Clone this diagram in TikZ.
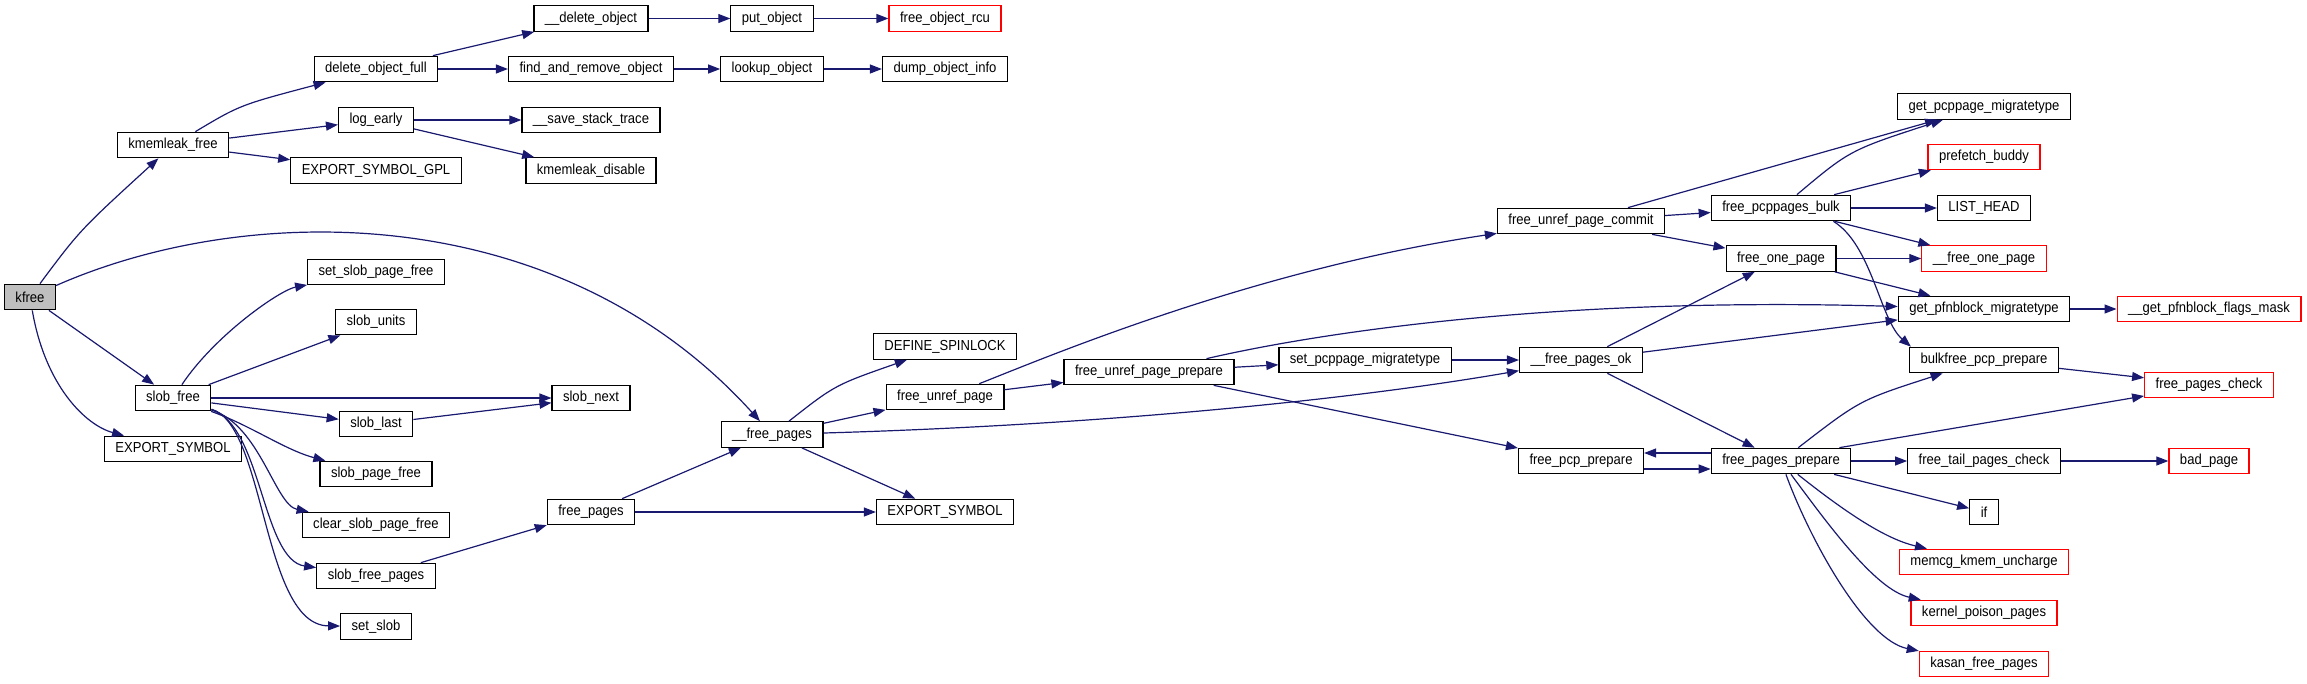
\documentclass[tikz,border=0pt]{standalone}
\usepackage{fontspec}
\newfontfamily\dxfont[FakeStretch=0.9]{Liberation Sans}
\usepackage{tikz}
\usetikzlibrary{arrows.meta, calc}
\definecolor{edgeColor}{RGB}{25, 25, 112}
\definecolor{rootColor}{RGB}{191, 191, 191}
\definecolor{missingColor}{RGB}{255, 0, 0}

\begin{document}
\begin{tikzpicture}[x=1pt, y=-1pt,
            fn/.style={draw=black, line width=1.2pt, rectangle, inner xsep=11pt, inner ysep=0pt, minimum height=25.5pt, font=\dxfont\fontsize{14.5}{16}\selectfont},
            root/.style={fn, fill=rootColor},
            missing/.style={fn, draw=missingColor},
            call/.style={draw=edgeColor, line width=1.2pt, -{Triangle[length=12pt, width=9pt]}}]
            \useasboundingbox (0,0) rectangle (2307,683);
            \node[root] (kfree) at (30,297) {kfree};
            \node[fn] (kmemleakFree) at (173,145) {kmemleak\_free};
            \node[fn] (slobFree) at (173,398) {slob\_free};
            \node[fn] (exportSymbolA) at (173,449) {EXPORT\_SYMBOL};
            \node[fn] (deleteObjectFull) at (376,69) {delete\_object\_full};
            \node[fn] (logEarly) at (376,120) {log\_early};
            \node[fn] (exportSymbolGpl) at (376,170.5) {EXPORT\_SYMBOL\_GPL};
            \node[fn] (setSlobPageFree) at (376,272) {set\_slob\_page\_free};
            \node[fn] (slobUnits) at (376,322) {slob\_units};
            \node[fn] (slobLast) at (376,424) {slob\_last};
            \node[fn] (slobPageFree) at (376,474) {slob\_page\_free};
            \node[fn] (clearSlobPageFree) at (376,525) {clear\_slob\_page\_free};
            \node[fn] (slobFreePages) at (376,576) {slob\_free\_pages};
            \node[fn] (setSlob) at (376,626.5) {set\_slob};
            \node[fn] (deleteObject) at (591,18.5) {\_\_delete\_object};
            \node[fn] (findAndRemoveObject) at (591,69) {find\_and\_remove\_object};
            \node[fn] (saveStackTrace) at (591,120) {\_\_save\_stack\_trace};
            \node[fn] (kmemleakDisable) at (591,170.5) {kmemleak\_disable};
            \node[fn] (slobNext) at (591,398) {slob\_next};
            \node[fn] (freePages) at (591,512) {free\_pages};
            \node[fn] (putObject) at (772,18.5) {put\_object};
            \node[fn] (lookupObject) at (772,69) {lookup\_object};
            \node[fn] (freePagesInner) at (772,434.5) {\_\_free\_pages};
            \node[missing] (freeObjectRcu) at (945,18.5) {free\_object\_rcu};
            \node[fn] (dumpObjectInfo) at (945,69) {dump\_object\_info};
            \node[fn] (defineSpinlock) at (945,346.5) {DEFINE\_SPINLOCK};
            \node[fn] (freeUnrefPage) at (945,397) {free\_unref\_page};
            \node[fn] (exportSymbolB) at (945,512) {EXPORT\_SYMBOL};
            \node[fn] (freeUnrefPagePrepare) at (1149,372) {free\_unref\_page\_prepare};
            \node[fn] (setPcppageMigratetype) at (1365,360) {set\_pcppage\_migratetype};
            \node[fn] (freeUnrefPageCommit) at (1581,221) {free\_unref\_page\_commit};
            \node[fn] (freePagesOk) at (1581,360) {\_\_free\_pages\_ok};
            \node[fn] (freePcpPrepare) at (1581,461) {free\_pcp\_prepare};
            \node[fn] (freePcppagesBulk) at (1781,208) {free\_pcppages\_bulk};
            \node[fn] (freeOnePage) at (1781,258.5) {free\_one\_page};
            \node[fn] (freePagesPrepare) at (1781,461) {free\_pages\_prepare};
            \node[fn] (getPcppageMigratetype) at (1984,106.5) {get\_pcppage\_migratetype};
            \node[missing] (prefetchBuddy) at (1984,157) {prefetch\_buddy};
            \node[fn] (listHead) at (1984,208) {LIST\_HEAD};
            \node[missing] (freeOnePageInner) at (1984,258.5) {\_\_free\_one\_page};
            \node[fn] (getPfnblockMigratetype) at (1984,309) {get\_pfnblock\_migratetype};
            \node[fn] (bulkfreePcpPrepare) at (1984,360) {bulkfree\_pcp\_prepare};
            \node[fn] (freeTailPagesCheck) at (1984,461) {free\_tail\_pages\_check};
            \node[fn] (ifNode) at (1984,512) {if};
            \node[missing] (memcgKmemUncharge) at (1984,562) {memcg\_kmem\_uncharge};
            \node[missing] (kernelPoisonPages) at (1984,613) {kernel\_poison\_pages};
            \node[missing] (kasanFreePages) at (1984,664) {kasan\_free\_pages};
            \node[missing] (getPfnblockFlagsMask) at (2209,309) {\_\_get\_pfnblock\_flags\_mask};
            \node[missing] (freePagesCheck) at (2209,385) {free\_pages\_check};
            \node[missing] (badPage) at (2209,461) {bad\_page};
            \draw[call] (kfree) .. controls (80,230) .. (kmemleakFree);
            \draw[call] (kfree) .. controls (250,200) and (560,200) .. (freePagesInner);
            \draw[call] (kfree) -- (slobFree);
            \draw[call] (kfree) .. controls (45,385) and (85,425) .. (exportSymbolA);
            \draw[call] (kmemleakFree) .. controls (240,105) .. (deleteObjectFull);
            \draw[call] (kmemleakFree) -- (logEarly);
            \draw[call] (kmemleakFree) -- (exportSymbolGpl);
            \draw[call] (deleteObjectFull) -- (deleteObject);
            \draw[call] (deleteObjectFull) -- (findAndRemoveObject);
            \draw[call] (deleteObject) -- (putObject);
            \draw[call] (putObject) -- (freeObjectRcu);
            \draw[call] (findAndRemoveObject) -- (lookupObject);
            \draw[call] (lookupObject) -- (dumpObjectInfo);
            \draw[call] (logEarly) -- (saveStackTrace);
            \draw[call] (logEarly) -- (kmemleakDisable);
            \draw[call] (slobFree) .. controls (215,335) and (280,290) .. (setSlobPageFree);
            \draw[call] (slobFree) -- (slobUnits);
            \draw[call] (slobFree) -- (slobNext);
            \draw[call] (slobFree) -- (slobLast);
            \draw[call] (slobLast) -- (slobNext);
            \draw[call] (slobFree) .. controls (250,425) and (285,450) .. (slobPageFree);
            \draw[call] (slobFree) .. controls (260,425) and (275,505) .. (clearSlobPageFree);
            \draw[call] (slobFree) .. controls (262,425) and (262,560) .. (slobFreePages);
            \draw[call] (slobFree) .. controls (266,425) and (262,625) .. (setSlob);
            \draw[call] (slobFreePages) -- (freePages);
            \draw[call] (freePages) -- (freePagesInner);
            \draw[call] (freePages) -- (exportSymbolB);
            \draw[call] (freePagesInner) .. controls (835,385) .. (defineSpinlock);
            \draw[call] (freePagesInner) -- (freeUnrefPage);
            \draw[call] (freePagesInner) -- (exportSymbolB);
            \draw[call] (freePagesInner) .. controls (1100,425) and (1350,400) .. (freePagesOk);
            \draw[call] (freeUnrefPage) .. controls (1040,360) and (1250,270) .. (freeUnrefPageCommit);
            \draw[call] (freeUnrefPage) -- (freeUnrefPagePrepare);
            \draw[call] (freeUnrefPagePrepare) -- (setPcppageMigratetype);
            \draw[call] (freeUnrefPagePrepare) .. controls (1261,346) and (1500,295) .. (getPfnblockMigratetype);
            \draw[call] (freeUnrefPagePrepare) -- (freePcpPrepare);
            \draw[call] (setPcppageMigratetype) -- (freePagesOk);
            \draw[call] (freeUnrefPageCommit) -- (getPcppageMigratetype);
            \draw[call] (freeUnrefPageCommit) -- (freePcppagesBulk);
            \draw[call] (freeUnrefPageCommit) -- (freeOnePage);
            \draw[call] (freePcppagesBulk) .. controls (1850,150) .. (getPcppageMigratetype);
            \draw[call] (freePcppagesBulk) -- (prefetchBuddy);
            \draw[call] (freePcppagesBulk) -- (listHead);
            \draw[call] (freePcppagesBulk) -- (freeOnePageInner);
            \draw[call] ([xshift=-18pt]freePcppagesBulk.south east) .. controls (1872,245) and (1880,320) .. ([xshift=2pt]bulkfreePcpPrepare.north west);
            \draw[call] (freeOnePage) -- (freeOnePageInner);
            \draw[call] (freeOnePage) -- (getPfnblockMigratetype);
            \draw[call] (getPfnblockMigratetype) -- (getPfnblockFlagsMask);
            \draw[call] (freePagesOk) -- (freeOnePage);
            \draw[call] (freePagesOk) -- (getPfnblockMigratetype);
            \draw[call] (freePagesOk) -- (freePagesPrepare);
            \draw[call] ([yshift=-8pt]freePcpPrepare.east) -- ([yshift=-8pt]freePagesPrepare.west);
            \draw[call] ([yshift=8pt]freePagesPrepare.west) -- ([yshift=8pt]freePcpPrepare.east);
            \draw[call] (freePagesPrepare) .. controls (1860,400) .. (bulkfreePcpPrepare);
            \draw[call] ([xshift=-12pt]freePagesPrepare.north east) -- (freePagesCheck);
            \draw[call] (bulkfreePcpPrepare) -- (freePagesCheck);
            \draw[call] (freePagesPrepare) -- (freeTailPagesCheck);
            \draw[call] (freeTailPagesCheck) -- (badPage);
            \draw[call] (freePagesPrepare) -- (ifNode);
            \draw[call] (freePagesPrepare) .. controls (1855,520) and (1890,540) .. (memcgKmemUncharge);
            \draw[call] (freePagesPrepare) .. controls (1825,520) and (1875,590) .. (kernelPoisonPages);
            \draw[call] (freePagesPrepare) .. controls (1810,540) and (1865,640) .. (kasanFreePages);
        \end{tikzpicture}
\end{document}
